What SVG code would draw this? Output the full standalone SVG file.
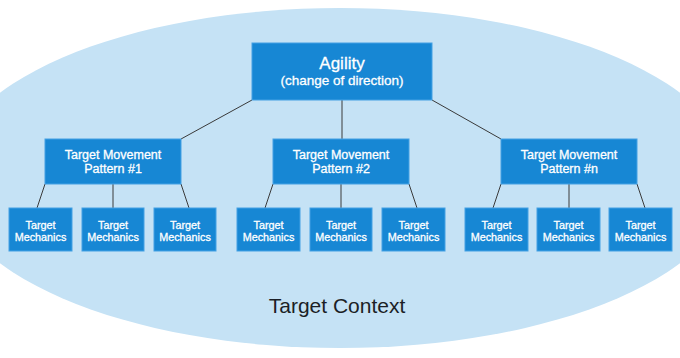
<svg xmlns="http://www.w3.org/2000/svg" width="680" height="358" viewBox="0 0 680 358">
<style>
.box{fill:#1787d4;stroke:#45a0e4;stroke-width:1}
.t{fill:#ffffff;stroke:#ffffff;stroke-width:0.3;font-family:"Liberation Sans",Arial,sans-serif;text-anchor:middle}
.pt{font-size:12.5px}
.mt{font-size:10.8px}
.c line{stroke:#3a3a3a;stroke-width:1}
</style>
<rect width="680" height="358" fill="#ffffff"/>
<ellipse cx="340" cy="178" rx="393" ry="170" fill="#c5e2f5"/>
<g class="c">
<line x1="252" y1="100" x2="181" y2="139"/>
<line x1="342" y1="100" x2="342" y2="139"/>
<line x1="432" y1="100" x2="501" y2="139"/>
<line x1="45" y1="184" x2="37" y2="208"/>
<line x1="113" y1="184" x2="113" y2="208"/>
<line x1="181" y1="184" x2="189" y2="208"/>
<line x1="273" y1="184" x2="265" y2="208"/>
<line x1="341" y1="184" x2="341" y2="208"/>
<line x1="409" y1="184" x2="417" y2="208"/>
<line x1="501" y1="184" x2="493" y2="208"/>
<line x1="569" y1="184" x2="569" y2="208"/>
<line x1="637" y1="184" x2="645" y2="208"/>
</g>
<g id="agility">
<rect class="box" x="252" y="43" width="180" height="57"/>
<text class="t" x="342" y="69" font-size="17">Agility</text>
<text class="t" x="342" y="85" font-size="13.5">(change of direction)</text>
</g>
<g id="pattern1">
<rect class="box" x="45" y="139" width="136" height="45"/>
<text class="t pt" x="113" y="159">Target Movement</text>
<text class="t pt" x="113" y="173">Pattern #1</text>
</g>
<g id="pattern2">
<rect class="box" x="273" y="139" width="136" height="45"/>
<text class="t pt" x="341" y="159">Target Movement</text>
<text class="t pt" x="341" y="173">Pattern #2</text>
</g>
<g id="patternn">
<rect class="box" x="501" y="139" width="136" height="45"/>
<text class="t pt" x="569" y="159">Target Movement</text>
<text class="t pt" x="569" y="173">Pattern #n</text>
</g>
<g id="mech1"><rect class="box" x="9" y="208" width="63" height="43"/><text class="t mt" x="40.5" y="229">Target</text><text class="t mt" x="40.5" y="241">Mechanics</text></g>
<g id="mech2"><rect class="box" x="82" y="208" width="62" height="43"/><text class="t mt" x="113" y="229">Target</text><text class="t mt" x="113" y="241">Mechanics</text></g>
<g id="mech3"><rect class="box" x="154" y="208" width="62" height="43"/><text class="t mt" x="185" y="229">Target</text><text class="t mt" x="185" y="241">Mechanics</text></g>
<g id="mech4"><rect class="box" x="237" y="208" width="63" height="43"/><text class="t mt" x="268.5" y="229">Target</text><text class="t mt" x="268.5" y="241">Mechanics</text></g>
<g id="mech5"><rect class="box" x="310" y="208" width="62" height="43"/><text class="t mt" x="341" y="229">Target</text><text class="t mt" x="341" y="241">Mechanics</text></g>
<g id="mech6"><rect class="box" x="382" y="208" width="63" height="43"/><text class="t mt" x="413.5" y="229">Target</text><text class="t mt" x="413.5" y="241">Mechanics</text></g>
<g id="mech7"><rect class="box" x="465" y="208" width="63" height="43"/><text class="t mt" x="496.5" y="229">Target</text><text class="t mt" x="496.5" y="241">Mechanics</text></g>
<g id="mech8"><rect class="box" x="537" y="208" width="63" height="43"/><text class="t mt" x="568.5" y="229">Target</text><text class="t mt" x="568.5" y="241">Mechanics</text></g>
<g id="mech9"><rect class="box" x="609" y="208" width="63" height="43"/><text class="t mt" x="640.5" y="229">Target</text><text class="t mt" x="640.5" y="241">Mechanics</text></g>
<g id="context">
<text x="337" y="313" font-family="'Liberation Sans',Arial,sans-serif" font-size="21" fill="#1c1f26" text-anchor="middle">Target Context</text>
</g>
</svg>
